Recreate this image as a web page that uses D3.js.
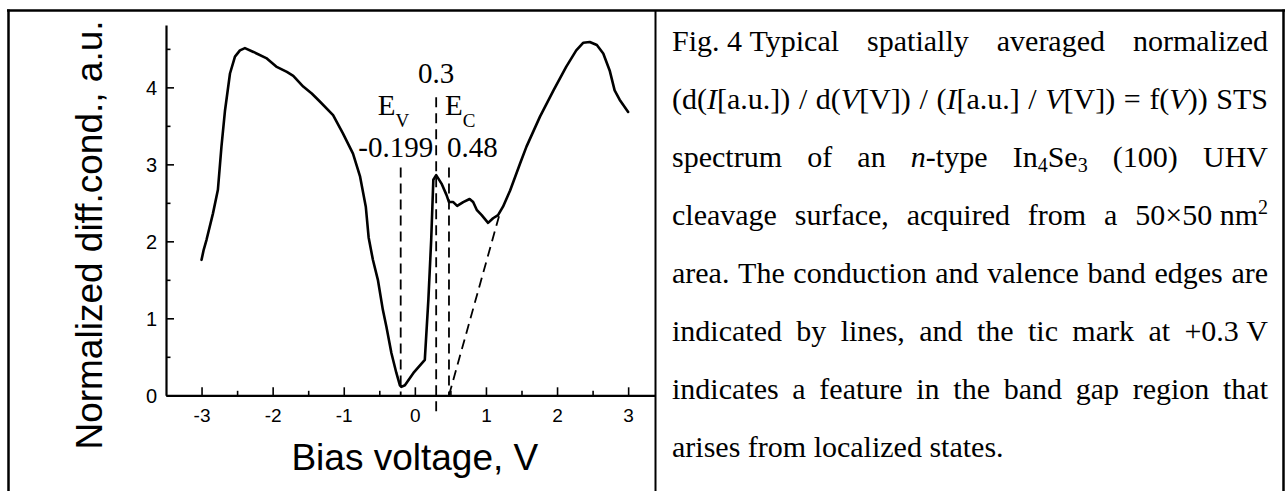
<!DOCTYPE html>
<html><head><meta charset="utf-8">
<script src="https://cdn.jsdelivr.net/npm/d3@7"></script>
<style>body{margin:0;background:#fff}svg{display:block}</style>
</head><body>
<svg id="c" width="1288" height="491"></svg>
<script>
// ---- data ----
const voltage = [-3.00,-2.97,-2.93,-2.84,-2.77,-2.72,-2.67,-2.60,-2.53,-2.46,-2.39,-2.27,-2.09,-1.95,-1.80,-1.71,-1.57,-1.45,-1.34,-1.15,-1.01,-0.87,-0.77,-0.69,-0.65,-0.59,-0.52,-0.45,-0.40,-0.33,-0.26,-0.21,-0.19,-0.14,-0.02,0.14,0.19,0.23,0.26,0.30,0.375,0.446,0.48,0.54,0.595,0.68,0.77,0.82,0.87,0.94,1.03,1.10,1.17,1.24,1.34,1.48,1.57,1.76,1.95,2.13,2.27,2.37,2.46,2.56,2.65,2.74,2.81,2.88,3.00];
const conductance = [1.76,1.89,2.02,2.36,2.67,3.23,3.70,4.18,4.40,4.48,4.51,4.46,4.38,4.27,4.20,4.15,4.01,3.92,3.82,3.64,3.40,3.14,2.84,2.45,2.05,1.76,1.50,1.11,0.89,0.55,0.29,0.13,0.11,0.13,0.29,0.46,1.24,2.02,2.80,2.86,2.75,2.60,2.51,2.51,2.46,2.51,2.55,2.51,2.41,2.34,2.24,2.30,2.34,2.45,2.66,3.01,3.23,3.62,3.96,4.27,4.48,4.58,4.59,4.55,4.44,4.22,3.96,3.84,3.68];
const xTicks = [-3,-2,-1,0,1,2,3];
const xMinorTicks = [-2.5,-1.5,-0.5,0.5,1.5,2.5];
const yTicks = [0,1,2,3,4];
const yMinorTicks = [0.5,1.5,2.5,3.5,4.5];
const edgeVoltages = [-0.199, 0.3, 0.48];          // E_V, feature, E_C
const edgeLabels = ["-0.199", "0.3", "0.48"];
const dashTop = [2.96, 3.87, 2.96];
const dashBottom = [0, -0.28, 0];
const tangentV = [0.48, 1.20];
const tangentG = [0, 2.38];
const xLabel = "Bias voltage, V";
const yLabel = "Normalized diff.cond., a.u.";
const captionLines = [
  "Fig.\u00a04\u00a0Typical spatially averaged normalized",
  "(d(*I*[a.u.]) / d(*V*[V]) / (*I*[a.u.] / *V*[V]) = f(*V*)) STS",
  "spectrum of an *n*-type In_4Se_3 (100) UHV",
  "cleavage surface, acquired from a 50×50\u00a0nm^2",
  "area. The conduction and valence band edges are",
  "indicated by lines, and the tic mark at +0.3\u00a0V",
  "indicates a feature in the band gap region that",
  "arises from localized states."
];

// ---- drawing ----
const svg = d3.select("#c");
const sans = "'Liberation Sans', Arial, sans-serif";
const serif = "'Liberation Serif', 'Times New Roman', serif";

const x = d3.scaleLinear().domain([-3.5, 3.5]).range([166, 663.7]);
const y = d3.scaleLinear().domain([0, 4.81]).range([395.3, 25]);

svg.append("defs").append("clipPath").attr("id","clipL")
  .append("rect").attr("x",0).attr("y",0).attr("width",655).attr("height",491);

const chart = svg.append("g").attr("clip-path","url(#clipL)");
const fmt = d => String(d).replace("\u2212","-");

// x axis
const xa = chart.append("g").attr("transform",`translate(0,${y(0)})`)
  .call(d3.axisBottom(x).tickValues(xTicks).tickSize(-8).tickSizeOuter(0).tickFormat(fmt));
xa.select(".domain").attr("stroke-width",2.2);
xa.selectAll(".tick line").attr("stroke-width",1.6);
xa.selectAll(".tick text").attr("font-family",sans).attr("font-size",19)
  .attr("y",27).attr("dy",0).attr("fill","#000");
chart.append("g").attr("transform",`translate(0,${y(0)})`)
  .call(d3.axisBottom(x).tickValues(xMinorTicks).tickSize(-4.5).tickFormat(""))
  .call(g=>g.select(".domain").remove())
  .selectAll(".tick line").attr("stroke-width",1.6);

// y axis
const ya = chart.append("g").attr("transform",`translate(${x(-3.5)},0)`)
  .call(d3.axisLeft(y).tickValues(yTicks).tickSize(-8).tickSizeOuter(0).tickFormat(fmt));
ya.select(".domain").attr("stroke-width",2.2);
ya.selectAll(".tick line").attr("stroke-width",1.6);
ya.selectAll(".tick text").attr("font-family",sans).attr("font-size",20)
  .attr("x",-9).attr("dy","0.36em").attr("fill","#000");
chart.append("g").attr("transform",`translate(${x(-3.5)},0)`)
  .call(d3.axisLeft(y).tickValues(yMinorTicks).tickSize(-4.5).tickFormat(""))
  .call(g=>g.select(".domain").remove())
  .selectAll(".tick line").attr("stroke-width",1.6);

// dashed marker lines
edgeVoltages.forEach((v,i)=>{
  chart.append("line")
    .attr("x1",x(v)).attr("x2",x(v)).attr("y1",y(dashTop[i])).attr("y2",y(dashBottom[i]))
    .attr("stroke","#000").attr("stroke-width",1.8).attr("stroke-dasharray","10,6");
});
chart.append("line")
  .attr("x1",x(tangentV[0])).attr("y1",y(tangentG[0]))
  .attr("x2",x(tangentV[1])).attr("y2",y(tangentG[1]))
  .attr("stroke","#000").attr("stroke-width",1.8).attr("stroke-dasharray","10,6");

// curve
const pts = voltage.map((v,i)=>[v, conductance[i]]);
chart.append("path").datum(pts)
  .attr("d", d3.line().x(d=>x(d[0])).y(d=>y(d[1])))
  .attr("fill","none").attr("stroke","#000").attr("stroke-width",2.6)
  .attr("stroke-linejoin","round").attr("stroke-linecap","round");

// annotations
const ann = chart.append("g").attr("font-family",serif).attr("font-size",29).attr("fill","#000");
ann.append("text").attr("x",x(edgeVoltages[1])).attr("y",83).attr("text-anchor","middle").text(edgeLabels[1]);
ann.append("text").attr("x",x(edgeVoltages[1])-3).attr("y",157).attr("text-anchor","end").text(edgeLabels[0]);
ann.append("text").attr("x",x(edgeVoltages[2])-2).attr("y",157).attr("text-anchor","start").text(edgeLabels[2]);
const ev = ann.append("text").attr("x",x(edgeVoltages[0])-23).attr("y",115);
ev.append("tspan").text("E");
ev.append("tspan").attr("font-size",19).attr("dy",12).text("V");
const ec = ann.append("text").attr("x",x(edgeVoltages[2])-4).attr("y",115);
ec.append("tspan").text("E");
ec.append("tspan").attr("font-size",19).attr("dy",12).text("C");

// axis titles
svg.append("text").attr("x",x(0)).attr("y",470).attr("text-anchor","middle")
  .attr("font-family",sans).attr("font-size",37).text(xLabel);
svg.append("text").attr("transform","translate(102,235) rotate(-90)").attr("text-anchor","middle")
  .attr("font-family",sans).attr("font-size",37).text(yLabel);

// table borders
const bc = svg.append("g").attr("stroke","#000");
bc.append("line").attr("x1",7).attr("x2",1285).attr("y1",10.5).attr("y2",10.5).attr("stroke-width",2.5);
bc.append("line").attr("x1",8.5).attr("x2",8.5).attr("y1",9.5).attr("y2",491).attr("stroke-width",2.5);
bc.append("line").attr("x1",1283.5).attr("x2",1283.5).attr("y1",9.5).attr("y2",491).attr("stroke-width",2.5);
bc.append("line").attr("x1",655.5).attr("x2",655.5).attr("y1",10).attr("y2",491).attr("stroke-width",2);

// caption (justified)
function parseWord(w){
  const segs=[]; let it=false, buf='';
  for(let i=0;i<w.length;i++){
    const c=w[i];
    if(c==='*'){ if(buf) segs.push({t:buf,it}); buf=''; it=!it; }
    else if(c==='_'||c==='^'){ if(buf) segs.push({t:buf,it}); buf=''; segs.push({t:w[i+1],it,shift:c==='_'?'sub':'sup'}); i++; }
    else buf+=c;
  }
  if(buf) segs.push({t:buf,it});
  return segs;
}
const capLeft = 672, capRight = 1268, capSize = 30, lineGap = 58, firstBase = 51;
const cap = svg.append("g").attr("font-family",serif).attr("font-size",capSize).attr("fill","#000");
captionLines.forEach((line,li)=>{
  const base = firstBase + li*lineGap;
  const words = line.split(" ");
  const nodes = words.map(w=>{
    const t = cap.append("text").attr("y",base).style("white-space","pre");
    let cur=0;
    parseWord(w).forEach(s=>{
      const target = s.shift==='sub'?5:(s.shift==='sup'?-11:0);
      const ts = t.append("tspan").text(s.t);
      if(target-cur!==0) ts.attr("dy",target-cur);
      cur=target;
      if(s.it) ts.attr("font-style","italic");
      if(s.shift) ts.attr("font-size",20);
    });
    return {t, w:t.node().getComputedTextLength()};
  });
  const total = d3.sum(nodes,d=>d.w);
  const last = li===captionLines.length-1;
  const gap = last ? capSize*0.25 : (capRight-capLeft-total)/(nodes.length-1);
  let cx = capLeft;
  nodes.forEach(n=>{ n.t.attr("x",cx); cx += n.w + gap; });
});
</script>
</body></html>
